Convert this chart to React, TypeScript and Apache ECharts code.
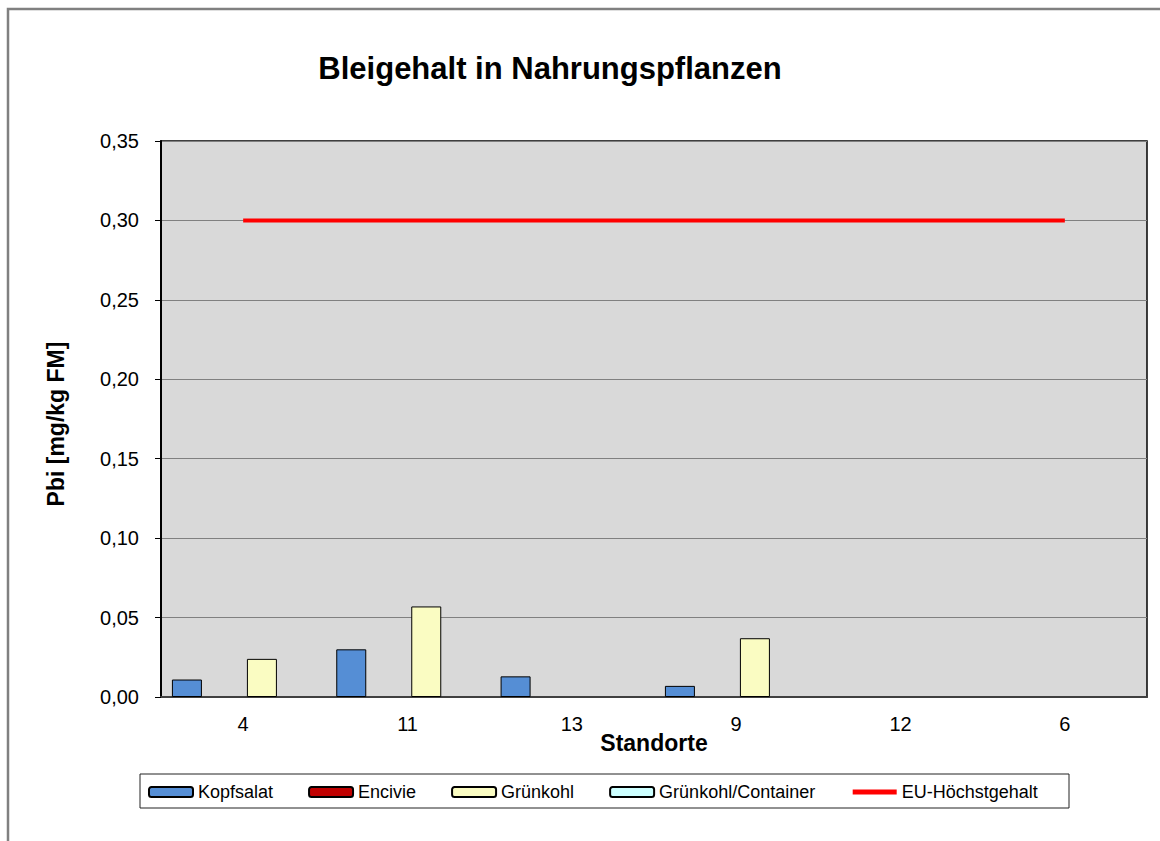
import React, { useEffect, useRef } from "react";
import * as echarts from "echarts";

const categories = ["4", "11", "13", "9", "12", "6"];
const kopfsalat = [0.011, 0.030, 0.013, 0.007, null, null];
const encivie = [null, null, null, null, null, null];
const gruenkohl = [0.024, 0.057, null, 0.037, null, null];
const container = [null, null, null, null, null, null];
const euLimit = [0.3, 0.3, 0.3, 0.3, 0.3, 0.3];

const FONT = "'Liberation Sans', Arial, sans-serif";

export default function App() {
  const ref = useRef<HTMLDivElement>(null);
  useEffect(() => {
    if (!ref.current) return;
    const chart = echarts.init(ref.current, null, { renderer: "svg" });
    const barBase = {
      type: "bar" as const,
      barWidth: 30,
      barGap: "25%",
    };
    chart.setOption({
      animation: false,
      backgroundColor: "#ffffff",
      textStyle: { fontFamily: FONT },
      title: {
        text: "Bleigehalt in Nahrungspflanzen",
        left: 545,
        top: 48,
        textAlign: "center",
        textStyle: { fontFamily: FONT, fontSize: 31, fontWeight: "bold", color: "#000" },
      },
      graphic: [
        {
          type: "rect",
          shape: { x: 8, y: 9, width: 1200, height: 900 },
          style: { fill: "none", stroke: "#808080", lineWidth: 2.5 },
          silent: true,
        },
        {
          type: "rect",
          shape: { x: 140, y: 774, width: 929, height: 34 },
          style: { fill: "#fff", stroke: "#222", lineWidth: 1 },
          silent: true,
          z: -1,
        },
      ],
      legend: {
        left: 143,
        top: 778,
        itemWidth: 44,
        itemHeight: 10,
        itemGap: 35,
        textStyle: { fontFamily: FONT, fontSize: 18, color: "#000" },
        data: [
          "Kopfsalat",
          "Encivie",
          "Grünkohl",
          "Grünkohl/Container",
          {
            name: "EU-Höchstgehalt",
            itemStyle: { opacity: 0 },
            lineStyle: { width: 5, color: "#FF0000" },
          },
        ],
      },
      grid: {
        left: 161,
        top: 141,
        right: 13,
        bottom: 144,
        show: true,
        backgroundColor: "#D9D9D9",
        borderColor: "#000",
        borderWidth: 1.5,
        containLabel: false,
      },
      xAxis: {
        type: "category",
        data: categories,
        boundaryGap: true,
        name: "Standorte",
        nameLocation: "middle",
        nameGap: 34,
        nameMoveOverlap: false,
        nameTextStyle: { fontFamily: FONT, fontSize: 23, fontWeight: "bold", color: "#000" },
        axisLine: { lineStyle: { color: "#404040", width: 2 } },
        axisTick: { show: false },
        axisLabel: { fontFamily: FONT, fontSize: 20, color: "#000", margin: 17 },
        splitLine: { show: false },
      },
      yAxis: {
        type: "value",
        min: 0,
        max: 0.35,
        interval: 0.05,
        name: "Pbi [mg/kg FM]",
        nameLocation: "middle",
        nameGap: 94,
        nameMoveOverlap: false,
        nameTextStyle: { fontFamily: FONT, fontSize: 23, fontWeight: "bold", color: "#000", padding: [0, 10, 0, 0] },
        axisLine: { show: true, lineStyle: { color: "#000", width: 2 } },
        axisTick: { show: true, inside: false, length: 6, lineStyle: { color: "#000" } },
        axisLabel: {
          fontFamily: FONT,
          fontSize: 20,
          color: "#000",
          margin: 22,
          formatter: (v: number) => v.toFixed(2).replace(".", ","),
        },
        splitLine: { show: true, lineStyle: { color: "#808080", width: 1 } },
      },
      series: [
        {
          ...barBase,
          name: "Kopfsalat",
          data: kopfsalat,
          itemStyle: { color: "#558ED5", borderColor: "#000", borderWidth: 1 },
        },
        {
          ...barBase,
          name: "Encivie",
          data: encivie,
          itemStyle: { color: "#C00000", borderColor: "#000", borderWidth: 1 },
        },
        {
          ...barBase,
          name: "Grünkohl",
          data: gruenkohl,
          itemStyle: { color: "#FAFCC2", borderColor: "#000", borderWidth: 1 },
        },
        {
          ...barBase,
          name: "Grünkohl/Container",
          data: container,
          itemStyle: { color: "#CCFFFF", borderColor: "#000", borderWidth: 1 },
        },
        {
          type: "line",
          name: "EU-Höchstgehalt",
          data: euLimit,
          symbol: "none",
          lineStyle: { color: "#FF0000", width: 4 },
          itemStyle: { color: "#FF0000" },
          z: 5,
        },
      ],
    });
    return () => chart.dispose();
  }, []);
  return (
    <div
      ref={ref}
      style={{ position: "fixed", left: 0, top: 0, width: 1160, height: 841 }}
    />
  );
}
